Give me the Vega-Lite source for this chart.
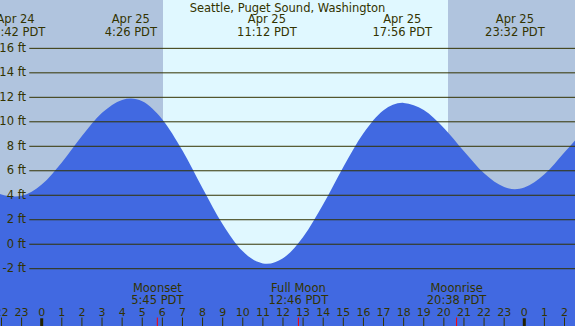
{
  "$schema": "https://vega.github.io/schema/vega-lite/v6.json",
  "width": 575,
  "height": 326,
  "autosize": {"type": "none"},
  "padding": 0,
  "background": "#B0C4DE",
  "config": {"view": {"stroke": null}},
  "datasets": {
    "shade": [
      {"start": -2.3, "end": 6.032, "kind": "night"},
      {"start": 6.032, "end": 20.206, "kind": "day"},
      {"start": 20.206, "end": 26.8, "kind": "night"}
    ],
    "tide": [
      {"t": -2.5, "ft": 4.39}, {"t": -2, "ft": 4.07}, {"t": -1.3, "ft": 3.9}, {"t": -1, "ft": 3.95},
      {"t": 0, "ft": 4.87}, {"t": 1, "ft": 6.68}, {"t": 2, "ft": 8.84}, {"t": 3, "ft": 10.73},
      {"t": 4, "ft": 11.79}, {"t": 4.433, "ft": 11.9}, {"t": 5, "ft": 11.67}, {"t": 6, "ft": 10.19},
      {"t": 7, "ft": 7.65}, {"t": 8, "ft": 4.58}, {"t": 9, "ft": 1.63}, {"t": 10, "ft": -0.58},
      {"t": 11, "ft": -1.57}, {"t": 11.2, "ft": -1.6}, {"t": 12, "ft": -1.15}, {"t": 13, "ft": 0.59},
      {"t": 14, "ft": 3.26}, {"t": 15, "ft": 6.3}, {"t": 16, "ft": 9.06}, {"t": 17, "ft": 10.94},
      {"t": 17.933, "ft": 11.55}, {"t": 18, "ft": 11.54}, {"t": 19, "ft": 10.96}, {"t": 20, "ft": 9.5},
      {"t": 21, "ft": 7.6}, {"t": 22, "ft": 5.8}, {"t": 23, "ft": 4.68}, {"t": 23.533, "ft": 4.5},
      {"t": 24, "ft": 4.63}, {"t": 25, "ft": 5.71}, {"t": 26, "ft": 7.52}, {"t": 27, "ft": 9.37}
    ],
    "grid": [
      {"ft": -2, "label": "-2 ft"}, {"ft": 0, "label": "0 ft"}, {"ft": 2, "label": "2 ft"},
      {"ft": 4, "label": "4 ft"}, {"ft": 6, "label": "6 ft"}, {"ft": 8, "label": "8 ft"},
      {"ft": 10, "label": "10 ft"}, {"ft": 12, "label": "12 ft"}, {"ft": 14, "label": "14 ft"},
      {"ft": 16, "label": "16 ft"}
    ],
    "extremes": [
      {"t": -1.3, "date": "Apr 24", "time": "22:42 PDT"},
      {"t": 4.433, "date": "Apr 25", "time": "4:26 PDT"},
      {"t": 11.2, "date": "Apr 25", "time": "11:12 PDT"},
      {"t": 17.933, "date": "Apr 25", "time": "17:56 PDT"},
      {"t": 23.533, "date": "Apr 25", "time": "23:32 PDT"}
    ],
    "moon": [
      {"t": 5.75, "event": "Moonset", "time": "5:45 PDT"},
      {"t": 12.767, "event": "Full Moon", "time": "12:46 PDT"},
      {"t": 20.633, "event": "Moonrise", "time": "20:38 PDT"}
    ],
    "hours": [
      {"h": -2, "label": "22", "midnight": false}, {"h": -1, "label": "23", "midnight": false},
      {"h": 0, "label": "0", "midnight": true}, {"h": 1, "label": "1", "midnight": false},
      {"h": 2, "label": "2", "midnight": false}, {"h": 3, "label": "3", "midnight": false},
      {"h": 4, "label": "4", "midnight": false}, {"h": 5, "label": "5", "midnight": false},
      {"h": 6, "label": "6", "midnight": false}, {"h": 7, "label": "7", "midnight": false},
      {"h": 8, "label": "8", "midnight": false}, {"h": 9, "label": "9", "midnight": false},
      {"h": 10, "label": "10", "midnight": false}, {"h": 11, "label": "11", "midnight": false},
      {"h": 12, "label": "12", "midnight": false}, {"h": 13, "label": "13", "midnight": false},
      {"h": 14, "label": "14", "midnight": false}, {"h": 15, "label": "15", "midnight": false},
      {"h": 16, "label": "16", "midnight": false}, {"h": 17, "label": "17", "midnight": false},
      {"h": 18, "label": "18", "midnight": false}, {"h": 19, "label": "19", "midnight": false},
      {"h": 20, "label": "20", "midnight": false}, {"h": 21, "label": "21", "midnight": false},
      {"h": 22, "label": "22", "midnight": false}, {"h": 23, "label": "23", "midnight": false},
      {"h": 24, "label": "0", "midnight": true}, {"h": 25, "label": "1", "midnight": false},
      {"h": 26, "label": "2", "midnight": false}
    ]
  },
  "layer": [
    {
      "data": {"name": "shade"},
      "mark": {"type": "rect", "clip": true},
      "encoding": {
        "x": {"field": "start", "type": "quantitative", "axis": null, "scale": {"domain": [-2.074, 26.522], "nice": false, "zero": false}},
        "x2": {"field": "end"},
        "y": {"datum": 21, "type": "quantitative", "axis": null, "scale": {"domain": [-6.68, 19.95], "nice": false, "zero": false}},
        "y2": {"datum": -7},
        "color": {"field": "kind", "type": "nominal", "legend": null, "scale": {"domain": ["night", "day"], "range": ["#B0C4DE", "#E0F8FF"]}}
      }
    },
    {
      "data": {"name": "tide"},
      "mark": {"type": "area", "interpolate": "monotone", "color": "#4169E1", "clip": true},
      "encoding": {
        "x": {"field": "t", "type": "quantitative", "axis": null, "scale": {"domain": [-2.074, 26.522], "nice": false, "zero": false}},
        "y": {"field": "ft", "type": "quantitative", "axis": null, "scale": {"domain": [-6.68, 19.95], "nice": false, "zero": false}},
        "y2": {"datum": -7}
      }
    },
    {
      "data": {"name": "grid"},
      "mark": {"type": "rule", "color": "#333300", "strokeWidth": 1, "clip": true},
      "encoding": {
        "x": {"datum": -0.617, "type": "quantitative", "axis": null},
        "x2": {"datum": 26.8},
        "y": {"field": "ft", "type": "quantitative", "axis": null}
      }
    },
    {
      "data": {"name": "grid"},
      "mark": {"type": "text", "align": "right", "baseline": "alphabetic", "dy": 3.4, "font": "DejaVu Sans", "fontSize": 11.5, "color": "#333300"},
      "encoding": {
        "x": {"datum": -0.781, "type": "quantitative", "axis": null},
        "y": {"field": "ft", "type": "quantitative", "axis": null},
        "text": {"field": "label"}
      }
    },
    {
      "data": {"values": [{"title": "Seattle, Puget Sound, Washington"}]},
      "mark": {"type": "text", "align": "center", "baseline": "alphabetic", "font": "DejaVu Sans", "fontSize": 11.5, "color": "#333300"},
      "encoding": {
        "y": {"datum": 18.99, "type": "quantitative", "axis": null},
        "text": {"field": "title"}
      }
    },
    {
      "data": {"name": "extremes"},
      "mark": {"type": "text", "align": "center", "baseline": "alphabetic", "font": "DejaVu Sans", "fontSize": 11.5, "color": "#333300"},
      "encoding": {
        "x": {"field": "t", "type": "quantitative", "axis": null},
        "y": {"datum": 18.05, "type": "quantitative", "axis": null},
        "text": {"field": "date"}
      }
    },
    {
      "data": {"name": "extremes"},
      "mark": {"type": "text", "align": "center", "baseline": "alphabetic", "font": "DejaVu Sans", "fontSize": 11.5, "color": "#333300"},
      "encoding": {
        "x": {"field": "t", "type": "quantitative", "axis": null},
        "y": {"datum": 17.01, "type": "quantitative", "axis": null},
        "text": {"field": "time"}
      }
    },
    {
      "data": {"name": "moon"},
      "mark": {"type": "text", "align": "center", "baseline": "alphabetic", "font": "DejaVu Sans", "fontSize": 11.5, "color": "#333300"},
      "encoding": {
        "x": {"field": "t", "type": "quantitative", "axis": null},
        "y": {"datum": -3.93, "type": "quantitative", "axis": null},
        "text": {"field": "event"}
      }
    },
    {
      "data": {"name": "moon"},
      "mark": {"type": "text", "align": "center", "baseline": "alphabetic", "font": "DejaVu Sans", "fontSize": 11.5, "color": "#333300"},
      "encoding": {
        "x": {"field": "t", "type": "quantitative", "axis": null},
        "y": {"datum": -4.91, "type": "quantitative", "axis": null},
        "text": {"field": "time"}
      }
    },
    {
      "data": {"name": "hours"},
      "transform": [{"filter": "!datum.midnight"}],
      "mark": {"type": "rule", "color": "#333300", "strokeWidth": 1},
      "encoding": {
        "x": {"field": "h", "type": "quantitative", "axis": null},
        "y": {"datum": -5.99, "type": "quantitative", "axis": null},
        "y2": {"datum": -6.7}
      }
    },
    {
      "data": {"name": "hours"},
      "transform": [{"filter": "datum.midnight"}],
      "mark": {"type": "rule", "color": "#222200", "strokeWidth": 3},
      "encoding": {
        "x": {"field": "h", "type": "quantitative", "axis": null},
        "y": {"datum": -6.05, "type": "quantitative", "axis": null},
        "y2": {"datum": -6.7}
      }
    },
    {
      "data": {"name": "moon"},
      "mark": {"type": "rule", "color": "#FF0000", "strokeWidth": 1},
      "encoding": {
        "x": {"field": "t", "type": "quantitative", "axis": null},
        "y": {"datum": -5.99, "type": "quantitative", "axis": null},
        "y2": {"datum": -6.7}
      }
    },
    {
      "data": {"name": "hours"},
      "mark": {"type": "text", "align": "center", "baseline": "alphabetic", "font": "DejaVu Sans", "fontSize": 11, "color": "#333300"},
      "encoding": {
        "x": {"field": "h", "type": "quantitative", "axis": null},
        "y": {"datum": -5.87, "type": "quantitative", "axis": null},
        "text": {"field": "label"}
      }
    }
  ]
}
